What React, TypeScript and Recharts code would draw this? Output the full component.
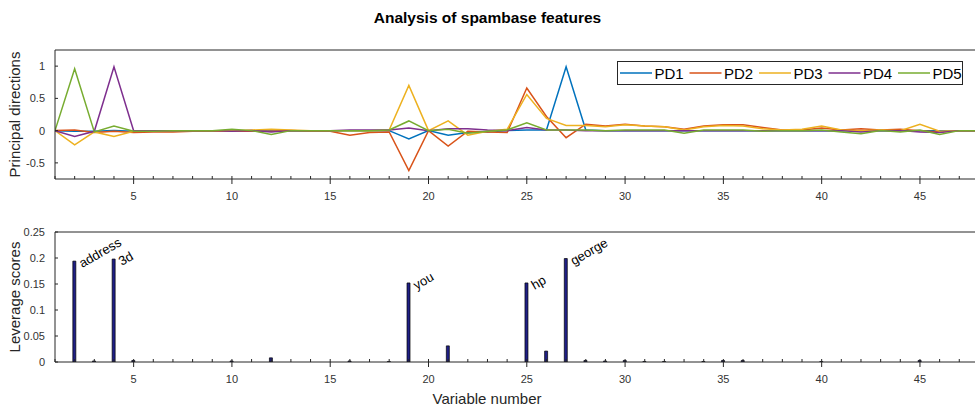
import React from 'react';
import {
  LineChart, Line, BarChart, Bar, XAxis, YAxis, Legend, ReferenceLine, Label, LabelList,
} from 'recharts';

// ---------- data ----------
const variableNumbers = [
  1, 2, 3, 4, 5, 6, 7, 8, 9, 10, 11, 12, 13, 14, 15, 16, 17, 18, 19, 20, 21, 22, 23, 24,
  25, 26, 27, 28, 29, 30, 31, 32, 33, 34, 35, 36, 37, 38, 39, 40, 41, 42, 43, 44, 45, 46, 47, 48,
];

const pd1 = [
  0, -0.01, -0.01, 0, -0.01, 0, 0, 0, 0, 0, 0, 0, 0, 0, 0, 0, 0, 0, -0.13, 0, -0.07, -0.03, -0.02, 0,
  0.01, 0.01, 0.99, 0.01, 0, 0, 0, 0, 0, 0, 0, 0, 0, 0, 0, 0, 0, 0, 0, 0, 0, 0, 0, 0,
];
const pd2 = [
  0, 0.01, -0.03, -0.01, -0.03, -0.02, -0.02, -0.01, -0.01, -0.01, -0.01, -0.01, 0, -0.01, -0.01, -0.07, -0.03, -0.02, -0.62, 0, -0.24, -0.01, -0.02, -0.03,
  0.66, 0.22, -0.11, 0.1, 0.07, 0.1, 0.07, 0.06, 0.02, 0.07, 0.09, 0.09, 0.05, 0.01, 0.01, 0.04, 0.01, 0.03, 0.01, 0.02, 0, -0.02, 0, 0,
];
const pd3 = [
  0, -0.22, -0.02, -0.09, -0.01, 0, 0, 0, 0, 0, 0.01, 0.02, 0.01, 0, 0, 0, 0, 0.01, 0.7, 0, 0.15, -0.07, -0.01, 0.02,
  0.56, 0.19, 0.08, 0.08, 0.06, 0.09, 0.07, 0.06, 0.01, 0.06, 0.08, 0.07, 0.03, 0.01, 0.02, 0.07, 0.01, 0, 0.01, 0, 0.1, -0.01, 0, 0,
];
const pd4 = [
  0, -0.09, -0.01, 0.99, 0, 0, 0, 0, 0, -0.01, 0, -0.02, 0, 0, 0, 0.01, 0.01, 0.01, 0.04, 0, 0.03, 0.03, 0.01, 0,
  0.05, 0.01, 0.01, 0, 0, 0, 0, 0, 0, 0, 0, 0, 0, 0, 0, 0, 0, -0.02, 0, 0, -0.02, -0.03, 0, 0,
];
const pd5 = [
  0, 0.96, -0.02, 0.07, -0.01, -0.01, 0, 0, 0, 0.02, 0, -0.06, 0, 0, 0, 0, 0, 0.01, 0.15, 0, 0.02, -0.04, -0.01, 0.01,
  0.12, 0.01, 0.01, 0.01, 0, 0.01, 0.01, 0.01, -0.04, 0.01, 0.01, 0.01, -0.01, 0, 0, 0.01, -0.02, -0.05, 0, -0.02, 0.01, -0.06, 0, 0,
];

const seriesNames = ['PD1', 'PD2', 'PD3', 'PD4', 'PD5'];
const seriesColors = ['#0072BD', '#D95319', '#EDB120', '#7E2F8E', '#77AC30'];
const seriesValues = [pd1, pd2, pd3, pd4, pd5];

const leverageScores = [
  0, 0.194, 0.002, 0.198, 0.003, 0, 0, 0, 0, 0.002, 0, 0.008, 0, 0, 0, 0.002, 0, 0.001, 0.152, 0, 0.031, 0, 0, 0,
  0.152, 0.021, 0.199, 0.003, 0.002, 0.003, 0.001, 0.001, 0, 0.001, 0.003, 0.003, 0, 0, 0, 0.001, 0, 0, 0, 0, 0.003, 0, 0, 0,
];

const labeledVariables = [2, 4, 19, 25, 27];
const labeledNames = ['address', '3d', 'you', 'hp', 'george'];

const xTicks = [
  1, 2, 3, 4, 5, 6, 7, 8, 9, 10, 11, 12, 13, 14, 15, 16, 17, 18, 19, 20, 21, 22, 23, 24,
  25, 26, 27, 28, 29, 30, 31, 32, 33, 34, 35, 36, 37, 38, 39, 40, 41, 42, 43, 44, 45, 46, 47,
];
const topYTicks = [-0.5, 0, 0.5, 1];
const bottomYTicks = [0, 0.05, 0.1, 0.15, 0.2, 0.25];

// ---------- derived tables ----------
const lineData = variableNumbers.map((v, i) => {
  const row: Record<string, number> = { x: v };
  seriesNames.forEach((n, s) => { row[n] = seriesValues[s][i]; });
  return row;
});

const barData = variableNumbers.map((v, i) => {
  const k = labeledVariables.indexOf(v);
  return { x: v, score: leverageScores[i], name: k >= 0 ? labeledNames[k] : '' };
});

// ---------- styles ----------
const FONT = '"Liberation Sans", Arial, Helvetica, sans-serif';
const AXIS = '#262626';
const TICKTXT = '#333333';

const XTick = (props: any) => {
  const { x, y, payload } = props;
  const v = payload.value;
  const major = v % 5 === 0;
  if (!major) return <g />;
  return (
    <g>
      <line x1={x} x2={x} y1={y} y2={y + 5} stroke={AXIS} strokeWidth={1} />
      <text x={x} y={y + 21} textAnchor="middle" fontSize={11} fontFamily={FONT} fill={TICKTXT}>
        {v}
      </text>
    </g>
  );
};

const yLabel = (text: string) => (props: any) => {
  const vb = props.viewBox || {};
  const cx = (vb.x || 0) + 20;
  const cy = (vb.y || 0) + (vb.height || 0) / 2;
  return (
    <text
      x={cx}
      y={cy}
      transform={`rotate(-90 ${cx} ${cy})`}
      textAnchor="middle"
      fontSize={15}
      fontFamily={FONT}
      fill={AXIS}
    >
      {text}
    </text>
  );
};

const xLabel = (props: any) => {
  const vb = props.viewBox || {};
  return (
    <text x={487} y={(vb.y || 0) + 41.5} textAnchor="middle" fontSize={15} fontFamily={FONT} fill={AXIS}>
      Variable number
    </text>
  );
};

const renderLegend = (props: any) => {
  const payload = props.payload || [];
  return (
    <svg width={346} height={24} style={{ display: 'block' }}>
      <rect x={0.5} y={0.5} width={345} height={23} fill="#fff" stroke={AXIS} strokeWidth={1} />
      {payload.map((p: any, i: number) => {
        const x0 = 3 + i * 69.5;
        return (
          <g key={p.value}>
            <line x1={x0} x2={x0 + 32} y1={12} y2={12} stroke={p.color} strokeWidth={1.5} />
            <text x={x0 + 34.5} y={17.5} fontSize={15} fontFamily={FONT} fill="#000">
              {p.value}
            </text>
          </g>
        );
      })}
    </svg>
  );
};

const renderBarLabel = (props: any) => {
  const { x, y, width, value } = props;
  if (!value) return null;
  const tx = x + width / 2 + 8;
  const ty = y + 7;
  return (
    <text
      x={tx}
      y={ty}
      transform={`rotate(-30 ${tx} ${ty})`}
      fontSize={13}
      fontFamily={FONT}
      fill="#000"
    >
      {value}
    </text>
  );
};

export default function App() {
  return (
    <div style={{ position: 'absolute', left: 0, top: 0, width: 975, height: 408, background: '#fff', overflow: 'hidden', fontFamily: FONT }}>
      <div
        style={{
          position: 'absolute', left: 0, top: 9, width: 975, textAlign: 'center',
          fontSize: 15.5, fontWeight: 'bold', lineHeight: '18px', color: '#000', fontFamily: FONT,
        }}
      >
        Analysis of spambase features
      </div>

      <div style={{ position: 'absolute', left: 0, top: 0 }}>
        <LineChart width={975} height={210} data={lineData} margin={{ top: 50, right: 0, bottom: 0, left: 0 }}>
          <XAxis
            dataKey="x"
            type="number"
            domain={[1, 47.8]}
            allowDataOverflow
            ticks={xTicks}
            interval={0}
            height={31}
            tickSize={-3}
            tickMargin={3}
            tick={<XTick />}
            axisLine={{ stroke: AXIS }}
            tickLine={{ stroke: AXIS }}
          />
          <YAxis
            type="number"
            domain={[-0.75, 1.25]}
            allowDataOverflow
            ticks={topYTicks}
            interval={0}
            width={55}
            tickSize={-3}
            tickMargin={13}
            tick={{ fill: TICKTXT, fontSize: 11, fontFamily: FONT }}
            axisLine={{ stroke: AXIS }}
            tickLine={{ stroke: AXIS }}
          >
            <Label content={yLabel('Principal directions')} />
          </YAxis>
          <ReferenceLine y={1.25} stroke={AXIS} strokeWidth={1} />
          {seriesNames.map((n, s) => (
            <Line
              key={n}
              dataKey={n}
              name={n}
              type="linear"
              stroke={seriesColors[s]}
              strokeWidth={1.5}
              dot={false}
              activeDot={false}
              isAnimationActive={false}
            />
          ))}
          <Legend
            layout="horizontal"
            verticalAlign="middle"
            align="center"
            content={renderLegend}
            wrapperStyle={{ left: 617, top: 61, width: 346, height: 24 }}
          />
        </LineChart>
      </div>

      <div style={{ position: 'absolute', left: 0, top: 210 }}>
        <BarChart width={975} height={198} data={barData} margin={{ top: 22, right: 0, bottom: 0, left: 0 }} barSize={3}>
          <XAxis
            dataKey="x"
            type="number"
            domain={[1, 47.8]}
            allowDataOverflow
            ticks={xTicks}
            interval={0}
            height={46}
            tickSize={-3}
            tickMargin={3}
            tick={<XTick />}
            axisLine={{ stroke: AXIS }}
            tickLine={{ stroke: AXIS }}
          >
            <Label content={xLabel} />
          </XAxis>
          <YAxis
            type="number"
            domain={[0, 0.25]}
            allowDataOverflow
            ticks={bottomYTicks}
            interval={0}
            width={55}
            tickSize={-3}
            tickMargin={13}
            tick={{ fill: TICKTXT, fontSize: 11, fontFamily: FONT }}
            axisLine={{ stroke: AXIS }}
            tickLine={{ stroke: AXIS }}
          >
            <Label content={yLabel('Leverage scores')} />
          </YAxis>
          <ReferenceLine y={0.25} stroke={AXIS} strokeWidth={1} />
          <Bar dataKey="score" fill="#1f1f86" stroke="#000" strokeWidth={0.7} isAnimationActive={false}>
            <LabelList dataKey="name" content={renderBarLabel} />
          </Bar>
        </BarChart>
      </div>
    </div>
  );
}
